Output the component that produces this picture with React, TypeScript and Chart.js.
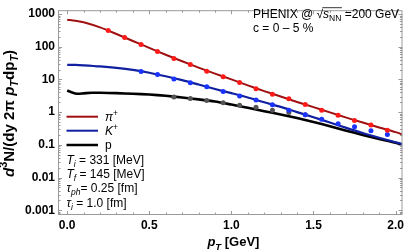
import React, { useEffect, useRef } from "react";
import { Chart, registerables } from "chart.js";
Chart.register(...registerables);

// ---------- data ----------
// model curves (p_T in GeV)
const curveX = [0.0, 0.05, 0.1, 0.2, 0.3, 0.4, 0.5, 0.6, 0.7, 0.8, 0.9, 1.0, 1.1, 1.2, 1.3, 1.4, 1.5, 1.6, 1.7, 1.8, 1.9, 2.0, 2.04];
const pionCurve = [668, 620, 560, 390, 245, 150, 92, 57, 36, 23, 15, 10, 6.6, 4.4, 3.0, 2.05, 1.42, 0.98, 0.68, 0.48, 0.34, 0.245, 0.21];
const kaonCurve = [28, 27.8, 27, 25, 22.5, 19.5, 16, 12.5, 9.5, 7.0, 5.1, 3.8, 2.8, 2.0, 1.45, 1.0, 0.7, 0.48, 0.33, 0.23, 0.165, 0.12, 0.105];
const protonCurveX = [0.0, 0.03, 0.06, 0.1, 0.15, 0.2, 0.3, 0.4, 0.5, 0.6, 0.7, 0.8, 0.9, 1.0, 1.1, 1.2, 1.3, 1.4, 1.5, 1.6, 1.7, 1.8, 1.9, 2.0, 2.04];
const protonCurve = [4.6, 4.0, 3.65, 3.75, 3.9, 3.9, 3.8, 3.65, 3.45, 3.15, 2.8, 2.45, 2.1, 1.7, 1.36, 1.07, 0.85, 0.66, 0.5, 0.37, 0.27, 0.2, 0.15, 0.115, 0.1];

// PHENIX data points
const pionPt = [0.25, 0.35, 0.45, 0.55, 0.65, 0.75, 0.85, 0.95, 1.05, 1.15, 1.25, 1.35, 1.45, 1.55, 1.65, 1.75, 1.85, 1.95];
const pionData = [312, 190, 116, 71, 44, 28.8, 17.9, 12, 8.0, 5.2, 3.5, 2.55, 1.7, 1.14, 0.8, 0.557, 0.406, 0.277];
const kaonPt = [0.45, 0.55, 0.65, 0.75, 0.85, 0.95, 1.05, 1.15, 1.25, 1.35, 1.45, 1.55, 1.65, 1.75, 1.85, 1.95];
const kaonData = [17.6, 14.1, 10.3, 7.85, 6.0, 4.3, 3.12, 2.33, 1.67, 1.14, 0.83, 0.61, 0.44, 0.355, 0.27, 0.205];
const protonPt = [0.65, 0.75, 0.85, 0.95, 1.05, 1.15, 1.25, 1.35, 1.45];
const protonData = [2.9, 2.6, 2.25, 1.95, 1.62, 1.4, 1.14, 0.98, 0.83];

const xTicks = [0, 0.5, 1.0, 1.5, 2.0];
const yTicks = [0.001, 0.01, 0.1, 1, 10, 100, 1000];
const yTickLabels = ["0.001", "0.01", "0.1", "1", "10", "100", "1000"];

const FAM = "'Liberation Sans', Arial, Helvetica, sans-serif";
const RED_LINE = "#a01010";
const BLUE_LINE = "#1020a0";
const BLACK_LINE = "#000000";

type Seg = { t: string; font: string; dy?: number };
function richWidth(ctx: CanvasRenderingContext2D, segs: Seg[]) {
  let w = 0;
  for (const s of segs) {
    ctx.font = s.font;
    w += ctx.measureText(s.t).width;
  }
  return w;
}
function drawRich(ctx: CanvasRenderingContext2D, x: number, y: number, segs: Seg[]) {
  let cx = x;
  for (const s of segs) {
    ctx.font = s.font;
    ctx.fillText(s.t, cx, y + (s.dy || 0));
    cx += ctx.measureText(s.t).width;
  }
  return cx;
}

function yTitleSegs(size: number): Seg[] {
  const fb = `bold ${size}px ${FAM}`;
  const fbi = `bold italic ${size}px ${FAM}`;
  const small = Math.round(size * 0.72 * 10) / 10;
  const fbs = `bold ${small}px ${FAM}`;
  const fbis = `bold italic ${small}px ${FAM}`;
  const up = -size * 0.42;
  const dn = size * 0.27;
  return [
    { t: "d", font: fbi },
    { t: "3", font: fbs, dy: up },
    { t: "N/(dy 2\u03C0 ", font: fb },
    { t: "p", font: fbi },
    { t: "T", font: fbis, dy: dn },
    { t: "dp", font: fb },
    { t: "T", font: fbis, dy: dn },
    { t: ")", font: fb },
  ];
}

const overlay = {
  id: "overlay",
  afterDraw(chart: any) {
    const ctx: CanvasRenderingContext2D = chart.ctx;
    const { left, right, top, bottom } = chart.chartArea;
    const xs = chart.scales.x;
    const ys = chart.scales.y;
    ctx.save();
    // frame
    ctx.strokeStyle = "#9a9a9a";
    ctx.lineWidth = 1;
    ctx.strokeRect(left + 0.5, top + 0.5, right - left - 1, bottom - top - 1);
    // x ticks
    ctx.beginPath();
    for (let i = 0; i <= 20; i++) {
      const v = i / 10;
      const major = i % 5 === 0;
      const len = major ? 4 : 2.5;
      const px = Math.round(xs.getPixelForValue(v)) + 0.5;
      ctx.moveTo(px, bottom);
      ctx.lineTo(px, bottom - len);
      ctx.moveTo(px, top);
      ctx.lineTo(px, top + len);
    }
    // y ticks
    for (let d = -4; d <= 3; d++) {
      for (let m = 1; m <= 9; m++) {
        const v = m * Math.pow(10, d);
        if (v < ys.min || v > ys.max) continue;
        const major = m === 1;
        const len = major ? 4 : 2.5;
        const py = Math.round(ys.getPixelForValue(v)) + 0.5;
        ctx.moveTo(left, py);
        ctx.lineTo(left + len, py);
        ctx.moveTo(right, py);
        ctx.lineTo(right - len, py);
      }
    }
    ctx.stroke();

    ctx.fillStyle = "#000";
    ctx.textBaseline = "alphabetic";
    ctx.textAlign = "left";

    // top-right annotation
    const f12 = `12px ${FAM}`;
    const f12i = `italic 12px ${FAM}`;
    const f8 = `8.5px ${FAM}`;
    const f8i = `italic 8.5px ${FAM}`;
    const tx = 253;
    let cx = drawRich(ctx, tx, 18.3, [{ t: "PHENIX @ ", font: f12 }, { t: "\u221A", font: f12 }]);
    const olStart = cx - 0.8;
    cx = drawRich(ctx, cx, 18.3, [{ t: "s", font: f12i }, { t: "NN", font: f8, dy: 3 }]);
    ctx.beginPath();
    ctx.strokeStyle = "#000";
    ctx.lineWidth = 0.8;
    ctx.moveTo(olStart, 18.3 - 10.6);
    ctx.lineTo(cx + 0.5, 18.3 - 10.6);
    ctx.stroke();
    drawRich(ctx, cx, 18.3, [{ t: " =200 GeV", font: f12 }]);
    drawRich(ctx, tx, 31.5, [{ t: "c = 0 \u2013 5 %", font: f12 }]);

    // legend
    const leg = [
      { c: RED_LINE, y: 116.7, w: 2, segs: [{ t: "\u03C0", font: f12i }, { t: "+", font: f8, dy: -5 }] },
      { c: BLUE_LINE, y: 130.7, w: 2, segs: [{ t: "K", font: f12i }, { t: "+", font: f8, dy: -5 }] },
      { c: BLACK_LINE, y: 145, w: 2.5, segs: [{ t: "p", font: f12 }] },
    ];
    for (const l of leg) {
      ctx.beginPath();
      ctx.strokeStyle = l.c;
      ctx.lineWidth = l.w;
      ctx.moveTo(66.5, l.y);
      ctx.lineTo(98, l.y);
      ctx.stroke();
      drawRich(ctx, 105, l.y + 4.3, l.segs);
    }
    drawRich(ctx, 66.5, 163.6, [{ t: "T", font: f12i }, { t: "i", font: f8i, dy: 3 }, { t: " = 331 [MeV]", font: f12 }]);
    drawRich(ctx, 66.5, 178.3, [{ t: "T", font: f12i }, { t: "f", font: f8i, dy: 3 }, { t: " = 145 [MeV]", font: f12 }]);
    drawRich(ctx, 66.5, 192.3, [{ t: "\u03C4", font: f12i }, { t: "ph", font: f8i, dy: 3 }, { t: "= 0.25 [fm]", font: f12 }]);
    drawRich(ctx, 66.5, 207.3, [{ t: "\u03C4", font: f12i }, { t: "i", font: f8i, dy: 3 }, { t: " = 1.0 [fm]", font: f12 }]);

    // x title
    const fb13 = `bold 13px ${FAM}`;
    const fbi13 = `bold italic 13px ${FAM}`;
    const fbi9 = `bold italic 9.5px ${FAM}`;
    const xt: Seg[] = [{ t: "p", font: fbi13 }, { t: "T", font: fbi9, dy: 3.5 }, { t: " [GeV]", font: fb13 }];
    const xw = richWidth(ctx, xt);
    drawRich(ctx, 233.4 - xw / 2, 246.2, xt);

    // y title (rotated) sized to span the measured length
    const targetLen = 127;
    const w12 = richWidth(ctx, yTitleSegs(12));
    const ysize = Math.min(16, Math.max(11, (12 * targetLen) / w12));
    const yt = yTitleSegs(ysize);
    const yw = richWidth(ctx, yt);
    ctx.save();
    ctx.translate(13.5, 113.5);
    ctx.rotate(-Math.PI / 2);
    drawRich(ctx, -yw / 2, 0, yt);
    ctx.restore();

    ctx.restore();
  },
};

function pts(xa: number[], ya: number[]) {
  return xa.map((x, i) => ({ x, y: ya[i] }));
}

export default function App() {
  const ref = useRef<HTMLCanvasElement | null>(null);
  useEffect(() => {
    if (!ref.current) return;
    const chart = new Chart(ref.current, {
      type: "scatter",
      data: {
        datasets: [
          { data: pts(pionPt, pionData), showLine: false, pointRadius: 2.5, pointBorderWidth: 0, backgroundColor: "#ff1a1a", order: 0 },
          { data: pts(kaonPt, kaonData), showLine: false, pointRadius: 2.5, pointBorderWidth: 0, backgroundColor: "#1a33ff", order: 0 },
          { data: pts(protonPt, protonData), showLine: false, pointRadius: 2.5, pointBorderWidth: 0, backgroundColor: "#555555", order: 0 },
          { data: pts(curveX, pionCurve), showLine: true, pointRadius: 0, borderColor: RED_LINE, borderWidth: 2, tension: 0.3, order: 1 },
          { data: pts(curveX, kaonCurve), showLine: true, pointRadius: 0, borderColor: BLUE_LINE, borderWidth: 2.2, tension: 0.3, order: 1 },
          { data: pts(protonCurveX, protonCurve), showLine: true, pointRadius: 0, borderColor: BLACK_LINE, borderWidth: 2.6, tension: 0.2, order: 2 },
        ],
      } as any,
      options: {
        animation: false,
        responsive: false,
        layout: { padding: { top: 1, right: 2, left: 0, bottom: 0 } },
        plugins: { legend: { display: false }, tooltip: { enabled: false } },
        scales: {
          x: {
            type: "linear",
            min: -0.056,
            max: 2.042,
            grid: { display: false, drawTicks: false, tickLength: 0 },
            border: { display: false },
            afterBuildTicks: (s: any) => {
              s.ticks = xTicks.map((v) => ({ value: v }));
            },
            afterFit: (s: any) => {
              s.height = 35;
            },
            ticks: {
              autoSkip: false,
              maxRotation: 0,
              padding: 3,
              color: "#000",
              font: { family: FAM, size: 12, weight: "bold" },
              callback: (v: any) => Number(v).toFixed(1),
            },
          },
          y: {
            type: "logarithmic",
            min: 0.000714,
            max: 1309,
            grid: { display: false, drawTicks: false, tickLength: 0 },
            border: { display: false },
            afterBuildTicks: (s: any) => {
              s.ticks = yTicks.map((v) => ({ value: v }));
            },
            afterFit: (s: any) => {
              s.width = 58;
            },
            ticks: {
              autoSkip: false,
              padding: 3,
              color: "#000",
              font: { family: FAM, size: 12, weight: "bold" },
              callback: (v: any) => {
                const i = yTicks.findIndex((t) => Math.abs(Math.log10(t) - Math.log10(Number(v))) < 1e-6);
                return i >= 0 ? yTickLabels[i] : "";
              },
            },
          },
        },
      } as any,
      plugins: [overlay],
    });
    return () => chart.destroy();
  }, []);
  return (
    <div style={{ position: "fixed", left: 0, top: 0, width: 407, height: 250, background: "#fff" }}>
      <canvas ref={ref} width={407} height={250} style={{ display: "block" }} />
    </div>
  );
}
